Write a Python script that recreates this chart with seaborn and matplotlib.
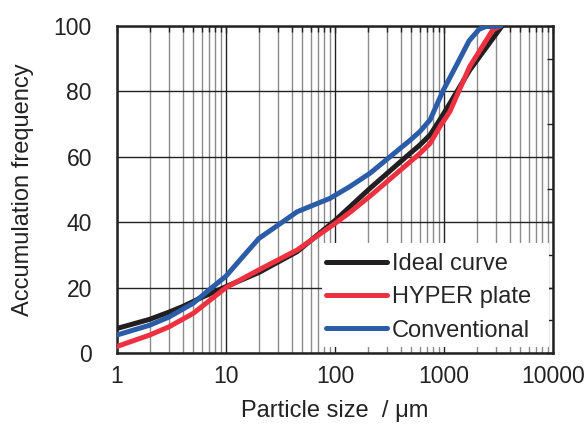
import numpy as np
import pandas as pd
import matplotlib
matplotlib.use("Agg")
import matplotlib.pyplot as plt
from matplotlib.patches import Rectangle
from matplotlib.ticker import LogLocator, MultipleLocator, FuncFormatter, NullFormatter
import seaborn as sns

# values (particle size in um, cumulative %)
ideal_x = [1, 2, 3, 4, 6, 10, 20, 45, 100, 210, 490, 600, 745, 915, 1135, 1720, 3400]
ideal_y = [7.5, 10.3, 12.5, 14.2, 17, 20.3, 24.6, 31, 40.5, 50.4, 61.1, 63.6, 66.7, 71.3, 76.4, 86.5, 100]

hyper_x = [1, 2, 3, 5, 10, 20, 45, 100, 137, 210, 490, 600, 745, 915, 1130, 1720, 2800, 3300]
hyper_y = [2, 5.5, 8, 12.1, 20, 25.4, 31.5, 39.6, 43, 48, 58.5, 61, 64.1, 69.2, 73.8, 87.6, 98.8, 100]

conv_x = [1, 2, 3, 5, 7, 10, 13.4, 20, 30, 45, 90, 137, 210, 490, 600, 745, 855, 986, 1300, 1700, 2100, 2400, 3300]
conv_y = [5.5, 8.5, 11, 15.2, 19.3, 23.5, 28.4, 35, 39.1, 43.2, 47.3, 50.9, 55, 65.1, 67.7, 71.3, 75.8, 80.4, 88, 95.5, 99, 99.8, 100]

labels = ["Ideal curve", "HYPER plate", "Conventional"]
colors = ["#231f20", "#ee3140", "#2a5ca8"]

df = pd.concat([
    pd.DataFrame({"size": ideal_x, "freq": ideal_y, "curve": labels[0]}),
    pd.DataFrame({"size": hyper_x, "freq": hyper_y, "curve": labels[1]}),
    pd.DataFrame({"size": conv_x, "freq": conv_y, "curve": labels[2]}),
])

sns.set_theme(style="white")
plt.rcParams["font.family"] = ["Liberation Sans", "DejaVu Sans"]

fig = plt.figure(figsize=(5.84, 4.24), dpi=100)
ax = fig.add_axes([0.2003, 0.1675, 0.7467, 0.7712])

sns.lineplot(data=df, x="size", y="freq", hue="curve", hue_order=labels,
             palette=colors, estimator=None, sort=False, linewidth=3.6,
             ax=ax, zorder=3)
for ln in ax.get_lines():
    ln.set_solid_capstyle("round")
    ln.set_solid_joinstyle("round")

ax.set_xscale("log")
ax.set_xlim(1, 10000)
ax.set_ylim(0, 100)
ax.xaxis.set_major_locator(LogLocator(base=10, numticks=10))
ax.xaxis.set_minor_locator(LogLocator(base=10, subs=np.arange(2, 10), numticks=20))
ax.xaxis.set_major_formatter(FuncFormatter(lambda v, p: f"{v:g}"))
ax.xaxis.set_minor_formatter(NullFormatter())
ax.yaxis.set_major_locator(MultipleLocator(20))
ax.yaxis.set_minor_locator(MultipleLocator(10))

ax.set_axisbelow(True)
ax.grid(which="major", axis="both", color="#222222", linewidth=1.0)
ax.grid(which="minor", axis="x", color="#8a8a8a", linewidth=1.0)

ax.tick_params(which="both", direction="in", top=True, right=True,
               color="#222222", labelcolor="#222222", labelsize=16.5)
ax.tick_params(which="major", length=5, width=1)
ax.tick_params(which="minor", length=4, width=1)
ax.tick_params(axis="x", which="major", pad=9)
ax.tick_params(axis="y", which="major", pad=18)

for sp in ax.spines.values():
    sp.set_color("#222222")
    sp.set_linewidth(1.8)

ax.set_xlabel("Particle size  / \u03bcm", fontsize=17, color="#222222", labelpad=8)
ax.set_ylabel("Accumulation frequency", fontsize=17, color="#222222", labelpad=14)

# white panel behind the legend hides the grid but keeps the axis ticks
ax.add_patch(Rectangle((0.47, 0.018), 0.52, 0.318, transform=ax.transAxes,
                       facecolor="white", edgecolor="none", zorder=2))

leg = ax.legend(loc="lower right", bbox_to_anchor=(0.96, 0.02), frameon=False,
                fontsize=17, handlelength=2.6, handletextpad=0.2,
                labelspacing=0.48, borderpad=0.2, borderaxespad=0.0)
leg.set_zorder(4)
for h in leg.get_lines():
    h.set_linewidth(3.6)
    h.set_solid_capstyle("round")

fig.savefig("out.png", dpi=100)
